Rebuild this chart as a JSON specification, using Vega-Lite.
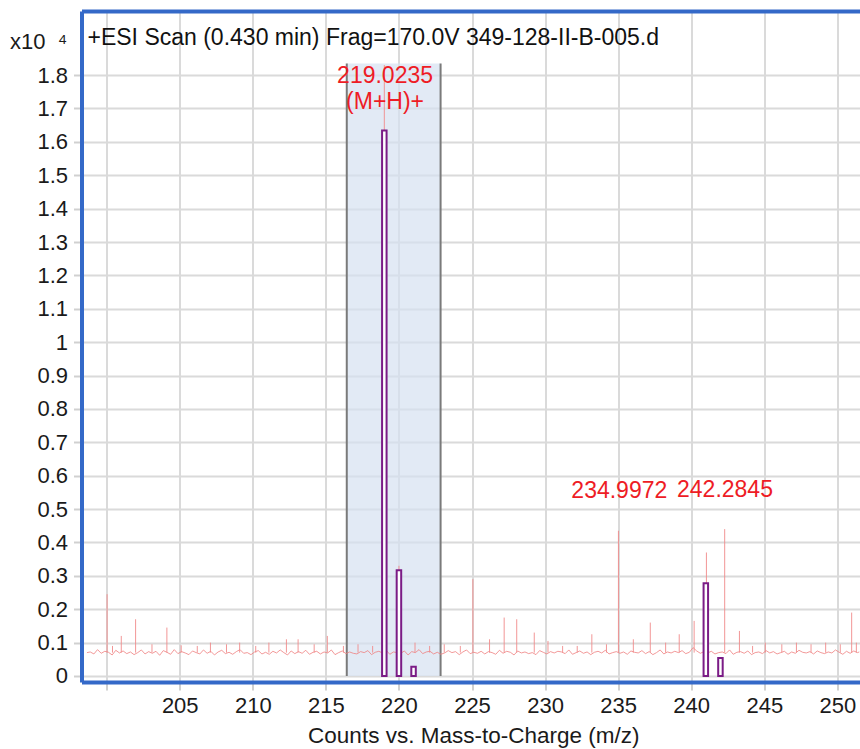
{
  "$schema": "https://vega.github.io/schema/vega-lite/v6.json",
  "width": 860,
  "height": 749,
  "autosize": {"type": "fit", "contains": "padding"},
  "padding": {"left": 9.5, "top": 11, "right": -5, "bottom": 2},
  "background": "white",
  "title": {
    "text": "+ESI Scan (0.430 min) Frag=170.0V 349-128-II-B-005.d",
    "anchor": "start",
    "frame": "group",
    "offset": -39,
    "dx": 6,
    "fontSize": 23,
    "fontWeight": "normal",
    "font": "Liberation Sans",
    "color": "#111111"
  },
  "datasets": {
    "shade": [{"m": 216.43, "m2": 222.85, "v": 0, "v2": 1.835}],
    "edges": [{"m": 216.43, "v": 0, "v2": 1.835}, {"m": 222.85, "v": 0, "v2": 1.835}],
    "bars": [
      {"m": 219, "v": 1.634},
      {"m": 220, "v": 0.317},
      {"m": 221, "v": 0.028},
      {"m": 241, "v": 0.278},
      {"m": 242, "v": 0.054}
    ],
    "labels": [
      {"m": 219.05, "v": 1.796, "t": "219.0235"},
      {"m": 219.05, "v": 1.719, "t": "(M+H)+"},
      {"m": 235.08, "v": 0.554, "t": "234.9972"},
      {"m": 242.31, "v": 0.557, "t": "242.2845"}
    ],
    "spikes": [
      {"m": 200.03, "v": 0.245}, {"m": 200.4, "v": 0.09}, {"m": 201.0, "v": 0.12}, {"m": 201.98, "v": 0.17},
      {"m": 203.1, "v": 0.095}, {"m": 204.12, "v": 0.145}, {"m": 205.1, "v": 0.092}, {"m": 206.2, "v": 0.09},
      {"m": 207.1, "v": 0.1}, {"m": 208.2, "v": 0.095}, {"m": 209.1, "v": 0.1}, {"m": 210.2, "v": 0.09},
      {"m": 211.1, "v": 0.1}, {"m": 212.3, "v": 0.11}, {"m": 213.1, "v": 0.11}, {"m": 214.2, "v": 0.095},
      {"m": 215.1, "v": 0.12}, {"m": 216.2, "v": 0.09}, {"m": 217.2, "v": 0.095}, {"m": 218.2, "v": 0.09},
      {"m": 219.0, "v": 1.83}, {"m": 220.0, "v": 0.33}, {"m": 221.1, "v": 0.1}, {"m": 222.1, "v": 0.09},
      {"m": 223.1, "v": 0.095}, {"m": 224.2, "v": 0.09}, {"m": 225.06, "v": 0.29}, {"m": 226.2, "v": 0.11},
      {"m": 227.2, "v": 0.175}, {"m": 228.06, "v": 0.17}, {"m": 229.26, "v": 0.13}, {"m": 230.2, "v": 0.105},
      {"m": 231.2, "v": 0.09}, {"m": 232.2, "v": 0.09}, {"m": 233.2, "v": 0.125}, {"m": 234.2, "v": 0.095},
      {"m": 235.02, "v": 0.435}, {"m": 236.04, "v": 0.11}, {"m": 237.2, "v": 0.16}, {"m": 238.25, "v": 0.1},
      {"m": 239.18, "v": 0.125}, {"m": 240.2, "v": 0.165}, {"m": 241.04, "v": 0.37}, {"m": 242.29, "v": 0.44},
      {"m": 243.3, "v": 0.135}, {"m": 244.2, "v": 0.09}, {"m": 245.07, "v": 0.1}, {"m": 246.2, "v": 0.095},
      {"m": 247.2, "v": 0.1}, {"m": 248.2, "v": 0.095}, {"m": 249.2, "v": 0.1}, {"m": 250.2, "v": 0.095},
      {"m": 250.98, "v": 0.19}, {"m": 251.3, "v": 0.1}
    ],
    "noise": [
      {"m": 198.65, "v": 0.07}, {"m": 198.875, "v": 0.072},
      {"m": 199.125, "v": 0.066}, {"m": 199.375, "v": 0.079}, {"m": 199.625, "v": 0.068}, {"m": 199.875, "v": 0.074},
      {"m": 200.125, "v": 0.071}, {"m": 200.375, "v": 0.063}, {"m": 200.625, "v": 0.077}, {"m": 200.875, "v": 0.069},
      {"m": 201.125, "v": 0.075}, {"m": 201.375, "v": 0.067}, {"m": 201.625, "v": 0.072}, {"m": 201.875, "v": 0.064},
      {"m": 202.125, "v": 0.07}, {"m": 202.375, "v": 0.078}, {"m": 202.625, "v": 0.066}, {"m": 202.875, "v": 0.073},
      {"m": 203.125, "v": 0.068}, {"m": 203.375, "v": 0.074}, {"m": 203.625, "v": 0.062}, {"m": 203.875, "v": 0.076},
      {"m": 204.125, "v": 0.071}, {"m": 204.375, "v": 0.065}, {"m": 204.625, "v": 0.079}, {"m": 204.875, "v": 0.067},
      {"m": 205.125, "v": 0.073}, {"m": 205.375, "v": 0.069}, {"m": 205.625, "v": 0.064}, {"m": 205.875, "v": 0.075},
      {"m": 206.125, "v": 0.07}, {"m": 206.375, "v": 0.066}, {"m": 206.625, "v": 0.078}, {"m": 206.875, "v": 0.068},
      {"m": 207.125, "v": 0.074}, {"m": 207.375, "v": 0.063}, {"m": 207.625, "v": 0.072}, {"m": 207.875, "v": 0.077},
      {"m": 208.125, "v": 0.067}, {"m": 208.375, "v": 0.071}, {"m": 208.625, "v": 0.065}, {"m": 208.875, "v": 0.073},
      {"m": 209.125, "v": 0.079}, {"m": 209.375, "v": 0.068}, {"m": 209.625, "v": 0.07}, {"m": 209.875, "v": 0.064},
      {"m": 210.125, "v": 0.072}, {"m": 210.375, "v": 0.076}, {"m": 210.625, "v": 0.066}, {"m": 210.875, "v": 0.071},
      {"m": 211.125, "v": 0.065}, {"m": 211.375, "v": 0.074}, {"m": 211.625, "v": 0.069}, {"m": 211.875, "v": 0.078},
      {"m": 212.125, "v": 0.07}, {"m": 212.375, "v": 0.063}, {"m": 212.625, "v": 0.075}, {"m": 212.875, "v": 0.067},
      {"m": 213.125, "v": 0.073}, {"m": 213.375, "v": 0.068}, {"m": 213.625, "v": 0.077}, {"m": 213.875, "v": 0.065},
      {"m": 214.125, "v": 0.071}, {"m": 214.375, "v": 0.074}, {"m": 214.625, "v": 0.066}, {"m": 214.875, "v": 0.072},
      {"m": 215.125, "v": 0.069}, {"m": 215.375, "v": 0.078}, {"m": 215.625, "v": 0.064}, {"m": 215.875, "v": 0.07},
      {"m": 216.125, "v": 0.075}, {"m": 216.375, "v": 0.067}, {"m": 216.625, "v": 0.072}, {"m": 216.875, "v": 0.068},
      {"m": 217.125, "v": 0.066}, {"m": 217.375, "v": 0.073}, {"m": 217.625, "v": 0.07}, {"m": 217.875, "v": 0.076},
      {"m": 218.125, "v": 0.064}, {"m": 218.375, "v": 0.071}, {"m": 218.625, "v": 0.074}, {"m": 218.875, "v": 0.069},
      {"m": 219.125, "v": 0.077}, {"m": 219.375, "v": 0.065}, {"m": 219.625, "v": 0.072}, {"m": 219.875, "v": 0.07},
      {"m": 220.125, "v": 0.068}, {"m": 220.375, "v": 0.075}, {"m": 220.625, "v": 0.063}, {"m": 220.875, "v": 0.073},
      {"m": 221.125, "v": 0.07}, {"m": 221.375, "v": 0.079}, {"m": 221.625, "v": 0.067}, {"m": 221.875, "v": 0.072},
      {"m": 222.125, "v": 0.074}, {"m": 222.375, "v": 0.066}, {"m": 222.625, "v": 0.071}, {"m": 222.875, "v": 0.065},
      {"m": 223.125, "v": 0.069}, {"m": 223.375, "v": 0.076}, {"m": 223.625, "v": 0.07}, {"m": 223.875, "v": 0.073},
      {"m": 224.125, "v": 0.064}, {"m": 224.375, "v": 0.072}, {"m": 224.625, "v": 0.078}, {"m": 224.875, "v": 0.067},
      {"m": 225.125, "v": 0.071}, {"m": 225.375, "v": 0.068}, {"m": 225.625, "v": 0.074}, {"m": 225.875, "v": 0.066},
      {"m": 226.125, "v": 0.073}, {"m": 226.375, "v": 0.07}, {"m": 226.625, "v": 0.065}, {"m": 226.875, "v": 0.077},
      {"m": 227.125, "v": 0.068}, {"m": 227.375, "v": 0.074}, {"m": 227.625, "v": 0.071}, {"m": 227.875, "v": 0.063},
      {"m": 228.125, "v": 0.075}, {"m": 228.375, "v": 0.069}, {"m": 228.625, "v": 0.072}, {"m": 228.875, "v": 0.067},
      {"m": 229.125, "v": 0.07}, {"m": 229.375, "v": 0.064}, {"m": 229.625, "v": 0.076}, {"m": 229.875, "v": 0.071},
      {"m": 230.125, "v": 0.066}, {"m": 230.375, "v": 0.073}, {"m": 230.625, "v": 0.069}, {"m": 230.875, "v": 0.074},
      {"m": 231.125, "v": 0.072}, {"m": 231.375, "v": 0.067}, {"m": 231.625, "v": 0.078}, {"m": 231.875, "v": 0.065},
      {"m": 232.125, "v": 0.07}, {"m": 232.375, "v": 0.075}, {"m": 232.625, "v": 0.068}, {"m": 232.875, "v": 0.072},
      {"m": 233.125, "v": 0.064}, {"m": 233.375, "v": 0.071}, {"m": 233.625, "v": 0.074}, {"m": 233.875, "v": 0.069},
      {"m": 234.125, "v": 0.077}, {"m": 234.375, "v": 0.066}, {"m": 234.625, "v": 0.07}, {"m": 234.875, "v": 0.073},
      {"m": 235.125, "v": 0.068}, {"m": 235.375, "v": 0.072}, {"m": 235.625, "v": 0.065}, {"m": 235.875, "v": 0.075},
      {"m": 236.125, "v": 0.071}, {"m": 236.375, "v": 0.069}, {"m": 236.625, "v": 0.076}, {"m": 236.875, "v": 0.067},
      {"m": 237.125, "v": 0.073}, {"m": 237.375, "v": 0.064}, {"m": 237.625, "v": 0.07}, {"m": 237.875, "v": 0.078},
      {"m": 238.125, "v": 0.066}, {"m": 238.375, "v": 0.072}, {"m": 238.625, "v": 0.069}, {"m": 238.875, "v": 0.074},
      {"m": 239.125, "v": 0.07}, {"m": 239.375, "v": 0.076}, {"m": 239.625, "v": 0.067}, {"m": 239.875, "v": 0.071},
      {"m": 240.125, "v": 0.085}, {"m": 240.375, "v": 0.075}, {"m": 240.625, "v": 0.068}, {"m": 240.875, "v": 0.073},
      {"m": 241.125, "v": 0.069}, {"m": 241.375, "v": 0.074}, {"m": 241.625, "v": 0.066}, {"m": 241.875, "v": 0.07},
      {"m": 242.125, "v": 0.072}, {"m": 242.375, "v": 0.067}, {"m": 242.625, "v": 0.078}, {"m": 242.875, "v": 0.065},
      {"m": 243.125, "v": 0.071}, {"m": 243.375, "v": 0.073}, {"m": 243.625, "v": 0.068}, {"m": 243.875, "v": 0.075},
      {"m": 244.125, "v": 0.064}, {"m": 244.375, "v": 0.07}, {"m": 244.625, "v": 0.072}, {"m": 244.875, "v": 0.067},
      {"m": 245.125, "v": 0.076}, {"m": 245.375, "v": 0.069}, {"m": 245.625, "v": 0.073}, {"m": 245.875, "v": 0.066},
      {"m": 246.125, "v": 0.07}, {"m": 246.375, "v": 0.074}, {"m": 246.625, "v": 0.065}, {"m": 246.875, "v": 0.072},
      {"m": 247.125, "v": 0.068}, {"m": 247.375, "v": 0.077}, {"m": 247.625, "v": 0.071}, {"m": 247.875, "v": 0.069},
      {"m": 248.125, "v": 0.073}, {"m": 248.375, "v": 0.066}, {"m": 248.625, "v": 0.075}, {"m": 248.875, "v": 0.07},
      {"m": 249.125, "v": 0.067}, {"m": 249.375, "v": 0.072}, {"m": 249.625, "v": 0.069}, {"m": 249.875, "v": 0.078},
      {"m": 250.125, "v": 0.071}, {"m": 250.375, "v": 0.065}, {"m": 250.625, "v": 0.074}, {"m": 250.875, "v": 0.068},
      {"m": 251.125, "v": 0.075}, {"m": 251.375, "v": 0.07}, {"m": 251.5, "v": 0.072}
    ]
  },
  "resolve": {"axis": {"x": "independent"}},
  "encoding": {
    "y": {
      "field": "v", "type": "quantitative",
      "scale": {"domain": [-0.018, 1.992], "nice": false, "zero": false},
      "axis": {
        "values": [0, 0.1, 0.2, 0.3, 0.4, 0.5, 0.6, 0.7, 0.8, 0.9, 1, 1.1, 1.2, 1.3, 1.4, 1.5, 1.6, 1.7, 1.8],
        "tickCount": 19,
        "format": "~g",
        "labelOverlap": false
      },
      "title": "x10\u00a0\u00a0\u2074"
    }
  },
  "layer": [
    {
      "data": {"name": "shade"},
      "mark": {"type": "rect", "fill": "#d6e1f1", "opacity": 0.7},
      "encoding": {
        "x": {
          "field": "m", "type": "quantitative",
          "scale": {"domain": [198.62, 251.55], "nice": false, "zero": false},
          "axis": {
            "orient": "bottom",
            "values": [200, 205, 210, 215, 220, 225, 230, 235, 240, 245, 250],
            "labelExpr": "datum.value === 200 ? '' : datum.label",
            "title": "Counts vs. Mass-to-Charge (m/z)"
          }
        },
        "x2": {"field": "m2"},
        "y2": {"field": "v2"}
      }
    },
    {
      "data": {"name": "edges"},
      "mark": {"type": "rule", "color": "#7a7a7a", "strokeWidth": 2},
      "encoding": {
        "x": {"field": "m", "type": "quantitative", "axis": null},
        "y2": {"field": "v2"}
      }
    },
    {
      "data": {"name": "noise"},
      "mark": {"type": "line", "color": "#ef7f7f", "strokeWidth": 0.8, "clip": true},
      "encoding": {
        "x": {"field": "m", "type": "quantitative", "axis": null}
      }
    },
    {
      "data": {"name": "spikes"},
      "mark": {"type": "rule", "color": "#f08a8a", "strokeWidth": 0.9},
      "encoding": {
        "x": {"field": "m", "type": "quantitative", "axis": null},
        "y2": {"datum": 0.07}
      }
    },
    {
      "data": {"name": "bars"},
      "mark": {"type": "bar", "orient": "vertical", "width": 4.5, "fill": "#ffffff", "stroke": "#7b1c86", "strokeWidth": 2},
      "encoding": {
        "x": {"field": "m", "type": "quantitative", "axis": null}
      }
    },
    {
      "data": {"name": "labels"},
      "mark": {"type": "text", "color": "#ee1c25", "fontSize": 23, "font": "Liberation Sans", "baseline": "middle", "align": "center"},
      "encoding": {
        "x": {
          "field": "m", "type": "quantitative",
          "axis": {"orient": "top", "labels": false, "ticks": false, "grid": false, "domain": true, "title": null}
        },
        "text": {"field": "t"}
      }
    }
  ],
  "config": {
    "view": {"stroke": null},
    "font": "Liberation Sans",
    "axis": {
      "labelFont": "Liberation Sans",
      "titleFont": "Liberation Sans",
      "labelColor": "#1a1a1a",
      "titleColor": "#1a1a1a",
      "titleFontWeight": "normal",
      "labelOverlap": false,
      "gridColor": "#dadada",
      "gridWidth": 2,
      "gridOpacity": 1,
      "tickColor": "#d0d0d0",
      "tickWidth": 2,
      "tickSize": 8,
      "domainColor": "#3469c8",
      "domainWidth": 4,
      "labelFontSize": 22,
      "titleFontSize": 22.5
    },
    "axisY": {
      "labelPadding": 6,
      "titleAngle": 0,
      "titleAlign": "left",
      "titleBaseline": "alphabetic",
      "titleX": -72,
      "titleY": 37,
      "titleFontSize": 22
    },
    "axisX": {"labelPadding": 5, "titlePadding": 8}
  }
}
